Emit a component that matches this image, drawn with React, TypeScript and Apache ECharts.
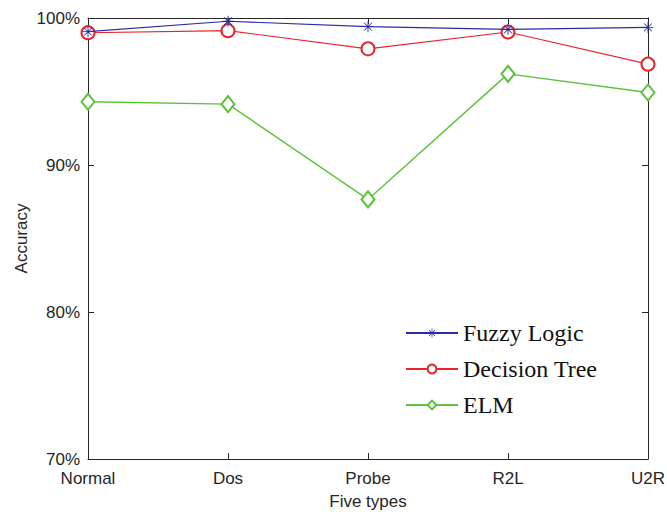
import React, { useEffect, useRef } from "react";
import * as echarts from "echarts";

const categories = ["Normal", "Dos", "Probe", "R2L", "U2R"];
const fuzzyLogic = [99.07, 99.78, 99.41, 99.23, 99.36];
const decisionTree = [99.0, 99.14, 97.9, 99.05, 96.86];
const elm = [94.3, 94.14, 87.66, 96.2, 94.93];
const yTicks = [70, 80, 90, 100];

const asterisk =
  "path://M-0.8,-10 L0.8,-10 L0.8,10 L-0.8,10 Z M-10,-0.8 L10,-0.8 L10,0.8 L-10,0.8 Z M-7.6,-6.5 L-6.5,-7.6 L7.6,6.5 L6.5,7.6 Z M6.5,-7.6 L7.6,-6.5 L-6.5,7.6 L-7.6,6.5 Z";

export default function App() {
  const ref = useRef<HTMLDivElement>(null);
  useEffect(() => {
    const chart = echarts.init(ref.current!, undefined, { renderer: "svg" });
    const axisColor = "#262626";
    const labelFont = { fontFamily: "Liberation Sans", fontSize: 17, color: axisColor };
    chart.setOption({
      animation: false,
      backgroundColor: "#ffffff",
      grid: { left: 88, right: 19, top: 18, bottom: 53, containLabel: false, outerBoundsMode: "none" },
      legend: {
        orient: "vertical",
        left: 400,
        top: 316,
        itemWidth: 52,
        itemHeight: 11,
        itemGap: 12,
        textStyle: { fontFamily: "Liberation Serif", fontSize: 24, color: "#111" },
        data: ["Fuzzy Logic", "Decision Tree", "ELM"],
      },
      xAxis: [
        {
          type: "category",
          data: categories,
          boundaryGap: false,
          name: "Five types",
          nameLocation: "middle",
          nameGap: 34,
          nameTextStyle: { ...labelFont },
          axisLine: { lineStyle: { color: axisColor, width: 1 } },
          axisTick: { inside: true, length: 6, lineStyle: { color: axisColor } },
          axisLabel: { ...labelFont, margin: 11 },
          splitLine: { show: false },
        },
        {
          type: "category",
          data: categories,
          boundaryGap: false,
          position: "top",
          axisLine: { lineStyle: { color: axisColor, width: 1 } },
          axisTick: { inside: true, length: 6, lineStyle: { color: axisColor } },
          axisLabel: { show: false },
          splitLine: { show: false },
        },
      ],
      yAxis: [
        {
          type: "value",
          min: yTicks[0],
          max: yTicks[yTicks.length - 1],
          interval: 10,
          name: "Accuracy",
          nameLocation: "middle",
          nameGap: 58,
          nameMoveOverlap: false,
          nameTextStyle: { ...labelFont },
          axisLine: { show: true, lineStyle: { color: axisColor, width: 1 } },
          axisTick: { show: true, inside: true, length: 6, lineStyle: { color: axisColor } },
          axisLabel: { ...labelFont, margin: 8, formatter: (v: number) => v + "%" },
          splitLine: { show: false },
        },
        {
          type: "value",
          min: yTicks[0],
          max: yTicks[yTicks.length - 1],
          interval: 10,
          position: "right",
          axisLine: { show: true, lineStyle: { color: axisColor, width: 1 } },
          axisTick: { show: true, inside: true, length: 6, lineStyle: { color: axisColor } },
          axisLabel: { show: false },
          splitLine: { show: false },
        },
      ],
      series: [
        {
          name: "Fuzzy Logic",
          type: "line",
          data: fuzzyLogic,
          color: "#2b2ba8",
          symbol: asterisk,
          symbolSize: 11,
          lineStyle: { width: 1.2, color: "#2b2ba8" },
          itemStyle: { color: "#2b2ba8" },
          z: 4,
        },
        {
          name: "Decision Tree",
          type: "line",
          data: decisionTree,
          color: "#e8242c",
          symbol: "emptyCircle",
          symbolSize: 13,
          lineStyle: { width: 1.1, color: "#e8242c" },
          itemStyle: { color: "#e8242c", borderWidth: 1, opacity: 1 },
          z: 3,
        },
        {
          name: "ELM",
          type: "line",
          data: elm,
          color: "#5cc23a",
          symbol: "emptyDiamond",
          symbolSize: [13, 16],
          lineStyle: { width: 1.4, color: "#5cc23a" },
          itemStyle: { color: "#5cc23a", borderWidth: 1.2 },
          z: 2,
        },
      ],
    });
    return () => chart.dispose();
  }, []);
  return <div ref={ref} style={{ width: 667, height: 512, position: "absolute", left: 0, top: 0 }} />;
}
